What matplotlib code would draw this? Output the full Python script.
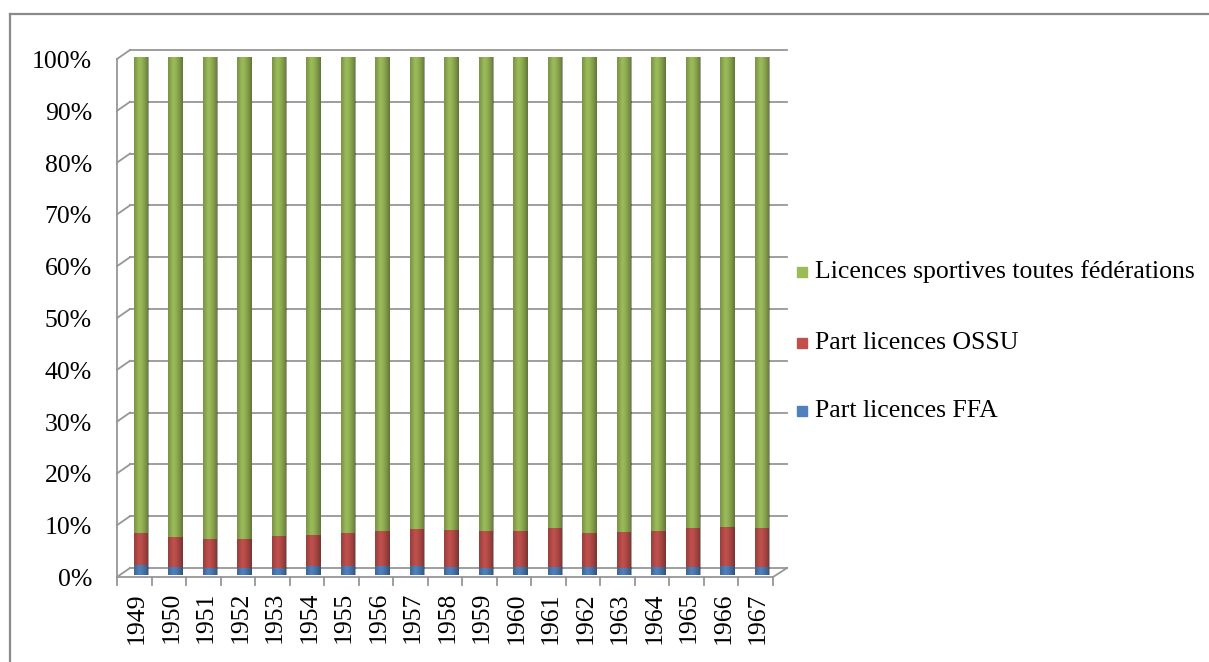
import matplotlib
matplotlib.use("Agg")
import matplotlib.pyplot as plt
import numpy as np
from matplotlib.patches import Rectangle
from matplotlib.lines import Line2D

plt.rcParams['font.family'] = ['Liberation Serif', 'DejaVu Serif']

years = [str(y) for y in range(1949, 1968)]
ffa = [1.9, 1.6, 1.4, 1.3, 1.4, 1.7, 1.7, 1.75, 1.75, 1.5, 1.4, 1.5, 1.6, 1.5, 1.4, 1.5, 1.6, 1.7, 1.6]
ossu_cum = [8.2, 7.3, 7.0, 6.95, 7.5, 7.7, 8.2, 8.4, 8.9, 8.7, 8.4, 8.55, 9.0, 8.05, 8.3, 8.4, 9.0, 9.3, 9.1]
ossu = [c - f for c, f in zip(ossu_cum, ffa)]
total = [100 - c for c in ossu_cum]
yticks = [0, 10, 20, 30, 40, 50, 60, 70, 80, 90, 100]
ytick_labels = [f"{t}%" for t in yticks]
series_names = ["Licences sportives toutes fédérations", "Part licences OSSU", "Part licences FFA"]
colors = {"green": "#9BBB59", "red": "#C0504D", "blue": "#4F81BD"}

W, H = 1209, 662
fig = plt.figure(figsize=(W / 100, H / 100), dpi=100)

ax_l, ax_r, ax_t, ax_b = 20, 800, 40, 655
ax = fig.add_axes([ax_l / W, 1 - ax_b / H, (ax_r - ax_l) / W, (ax_b - ax_t) / H])
ax.axis('off')
pxx = 34.5   # px per category
pxy = 5.18   # px per percent
x0px, y0px = 141, 575
ax.set_xlim((ax_l - x0px) / pxx, (ax_r - x0px) / pxx)
ax.set_ylim((y0px - ax_b) / pxy, (y0px - ax_t) / pxy)

grid_c = "#969696"
back_dy = 7 / pxy
front_dy = -2 / pxy
back_x0 = (130 - x0px) / pxx
front_x0 = (117 - x0px) / pxx
back_x1 = (787 - x0px) / pxx
front_x1 = (773 - x0px) / pxx

for t in yticks:
    yb = t + back_dy
    yf = t + front_dy
    ax.plot([back_x0, back_x1], [yb, yb], color=grid_c, lw=1.3, zorder=1)
    if t == 0:
        ax.plot([front_x0, front_x1], [yf, yf], color=grid_c, lw=1.3, zorder=4)
        ax.plot([front_x1, back_x1], [yf, yb], color=grid_c, lw=1.3, zorder=4)
    ax.plot([front_x0, back_x0], [yf, yb], color=grid_c, lw=1.3, zorder=1)
ax.plot([front_x0, front_x0], [0 + front_dy, 100 + front_dy], color=grid_c, lw=1.3, zorder=1)

tick_len = 8 / pxy
for k in range(len(years) + 1):
    xk = front_x0 + k
    ax.plot([xk, xk], [front_dy, front_dy - tick_len], color=grid_c, lw=1.3, zorder=4)

# bars
xs = list(range(len(years)))
bw = 0.43
bars = []
bars += list(ax.bar(xs, ffa, width=bw, color=colors["blue"], zorder=3, linewidth=0))
bars += list(ax.bar(xs, ossu, width=bw, bottom=ffa, color=colors["red"], zorder=3, linewidth=0))
bars += list(ax.bar(xs, total, width=bw, bottom=ossu_cum, color=colors["green"], zorder=3, linewidth=0))

# cylinder-like shading
u = np.linspace(0, 1, 64)
alpha = np.where(u < 0.35, 0.22 * (0.35 - u) / 0.35, 0.38 * ((u - 0.35) / 0.65) ** 1.5)
shade = np.zeros((1, 64, 4))
shade[..., 3] = alpha
for b in bars:
    x, y = b.get_x(), b.get_y()
    w, h = b.get_width(), b.get_height()
    im = ax.imshow(shade, extent=[x, x + w, y, y + h], aspect='auto', zorder=3.5, interpolation='bilinear')
    im.set_clip_path(b)

lab_x = (92 - x0px) / pxx
for t, lab in zip(yticks, ytick_labels):
    ax.text(lab_x, t - 5 / pxy, lab, ha='right', va='center', fontsize=18.5, color='black')

for i, y in enumerate(years):
    ax.text(i - 4 / pxx, (y0px - 592) / pxy, y, rotation=90, ha='center', va='top', fontsize=18.5)

ax.set_xlim((ax_l - x0px) / pxx, (ax_r - x0px) / pxx)
ax.set_ylim((y0px - ax_b) / pxy, (y0px - ax_t) / pxy)

leg_items = [(series_names[0], colors["green"], 272), (series_names[1], colors["red"], 343), (series_names[2], colors["blue"], 411)]
for name, c, cy in leg_items:
    fig.add_artist(Rectangle((797 / W, 1 - (cy + 5) / H), 10 / W, 10 / H, transform=fig.transFigure, color=c))
    fig.text(815 / W, 1 - cy / H, name, ha='left', va='center', fontsize=18.5)

fig.add_artist(Line2D([10 / W, 1], [1 - 14 / H, 1 - 14 / H], transform=fig.transFigure, color="#8a8a8a", lw=1.6))
fig.add_artist(Line2D([10 / W, 10 / W], [0, 1 - 14 / H], transform=fig.transFigure, color="#8a8a8a", lw=1.6))

fig.savefig("out.png", dpi=100)
